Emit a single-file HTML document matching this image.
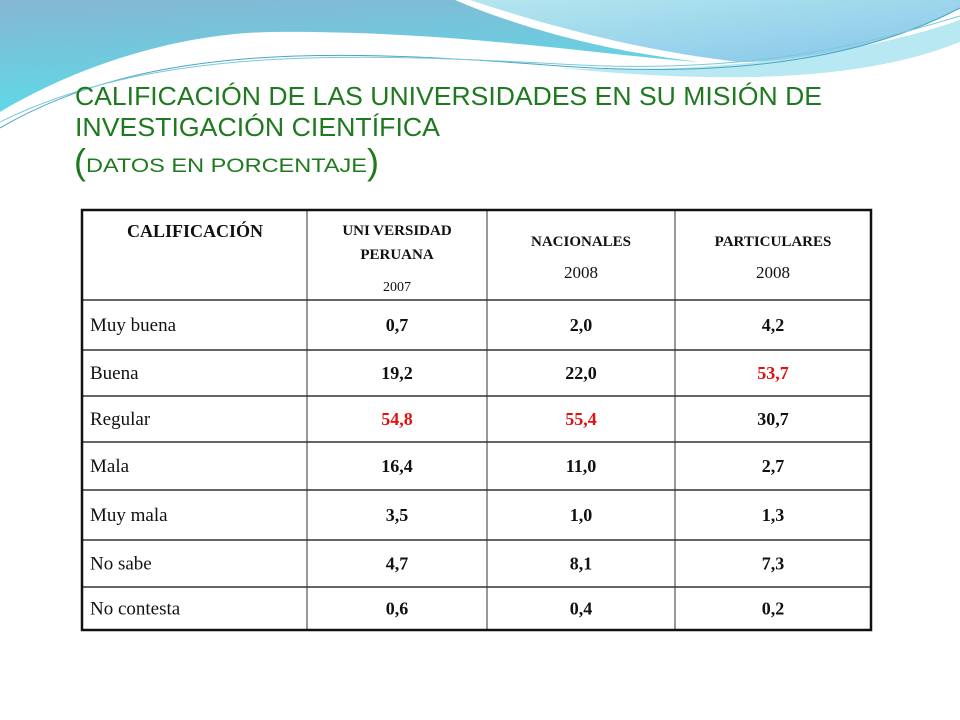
<!DOCTYPE html>
<html><head><meta charset="utf-8"><style>
html,body{margin:0;padding:0;background:#fff}
svg{display:block}
.serif{font-family:"Liberation Serif","Times New Roman",Times,serif}
.narrow{font-family:"Liberation Sans Narrow","Arial Narrow","Liberation Sans",Arial,sans-serif}
</style></head><body>
<svg width="960" height="720" viewBox="0 0 960 720" xmlns="http://www.w3.org/2000/svg">
<defs>
<linearGradient id="gA" x1="0" y1="0" x2="0.3" y2="1"><stop offset="0" stop-color="#86b6d2"/><stop offset="1" stop-color="#5cdbe9"/></linearGradient>
<linearGradient id="gB" x1="0" y1="0" x2="1" y2="1"><stop offset="0" stop-color="#b4e6ee"/><stop offset="1" stop-color="#86c6ea"/></linearGradient>
</defs>
<g>
<path d="M0,0 H455 C520,28 610,52 700,62 C600,55 450,30 270,32 C170,34 70,70 0,112 Z" fill="url(#gA)"/>
<path d="M470,0 H960 V8 C900,40 820,62 740,62 C650,52 560,30 470,0 Z" fill="url(#gB)"/>
<path d="M560,68 C700,74 850,58 960,20 V42 C880,74 760,88 560,68 Z" fill="#a6e2ef" opacity="0.8"/>
<path d="M0,128 C150,40 350,50 560,66 C760,80 880,50 960,8" fill="none" stroke="#4aa6c4" stroke-width="1"/>
<path d="M0,122 C150,48 340,52 560,64 C760,76 880,40 960,16" fill="none" stroke="#7cc8da" stroke-width="1"/>
</g>
<g class="narrow" fill="#1f7a1f">
<text x="75" y="105" font-size="26" textLength="747" lengthAdjust="spacingAndGlyphs">CALIFICACIÓN DE LAS UNIVERSIDADES EN SU MISIÓN DE</text>
<text x="75" y="136" font-size="26" textLength="365" lengthAdjust="spacingAndGlyphs">INVESTIGACIÓN CIENTÍFICA</text>
<text x="74" y="174" font-size="36">(</text>
<text x="86" y="172" font-size="19" textLength="281" lengthAdjust="spacingAndGlyphs">DATOS EN PORCENTAJE</text>
<text x="367" y="174" font-size="36">)</text>
</g>
<g id="table" class="serif" fill="#111"></g>
</svg>
<script>
const categories=["Muy buena","Buena","Regular","Mala","Muy mala","No sabe","No contesta"];
const uniPeruana=["0,7","19,2","54,8","16,4","3,5","4,7","0,6"];
const nacionales=["2,0","22,0","55,4","11,0","1,0","8,1","0,4"];
const particulares=["4,2","53,7","30,7","2,7","1,3","7,3","0,2"];
const redCells=[[2,0],[2,1],[1,2]];
const NS="http://www.w3.org/2000/svg";
const g=document.getElementById('table');
const colX=[82,307,487,675,871];
const rowY=[210,300,350,396,442,490,540,587,630];
function el(tag,attrs,txt){const e=document.createElementNS(NS,tag);for(const k in attrs)e.setAttribute(k,attrs[k]);if(txt!==undefined)e.textContent=txt;g.appendChild(e);return e;}
for(let i=1;i<colX.length-1;i++){const l=el('line',{x1:colX[i],y1:rowY[0],x2:colX[i],y2:rowY[rowY.length-1],stroke:'#333','stroke-width':1});}
for(let i=1;i<rowY.length-1;i++){const l=el('line',{x1:colX[0],y1:rowY[i],x2:colX[4],y2:rowY[i],stroke:'#333','stroke-width':1.5});}
const b=el('rect',{x:82,y:210,width:789,height:420,fill:'none',stroke:'#111','stroke-width':2.5});


function hdr(x,y,s,size,name){const t=el('text',{x:x,y:y,'text-anchor':'middle','font-size':size,'font-weight':'bold'},s);}
hdr(195,237,"CALIFICACIÓN",18,'header-calificacion');
hdr(397,235,"UNI VERSIDAD",15,'header-uni-peruana');
hdr(397,259,"PERUANA",15,'header-uni-peruana-2');
const y1=el('text',{x:397,y:291,'text-anchor':'middle','font-size':14},"2007");


hdr(581,246,"NACIONALES",15,'header-nacionales');
const y2=el('text',{x:581,y:278,'text-anchor':'middle','font-size':17},"2008");


hdr(773,246,"PARTICULARES",15,'header-particulares');
const y3=el('text',{x:773,y:278,'text-anchor':'middle','font-size':17},"2008");


const series=[uniPeruana,nacionales,particulares];
categories.forEach((c,r)=>{
 const cy=(rowY[r+1]+rowY[r+2])/2+6;
 const t=el('text',{x:90,y:cy,'font-size':19},c);
 
 
 series.forEach((s,ci)=>{
  const red=redCells.some(p=>p[0]===r&&p[1]===ci);
  const v=el('text',{x:(colX[ci+1]+colX[ci+2])/2,y:cy,'text-anchor':'middle','font-size':18,'font-weight':'bold',fill:red?'#e31010':'#111'},s[r]);
  
  
 });
});
</script>
</body></html>
